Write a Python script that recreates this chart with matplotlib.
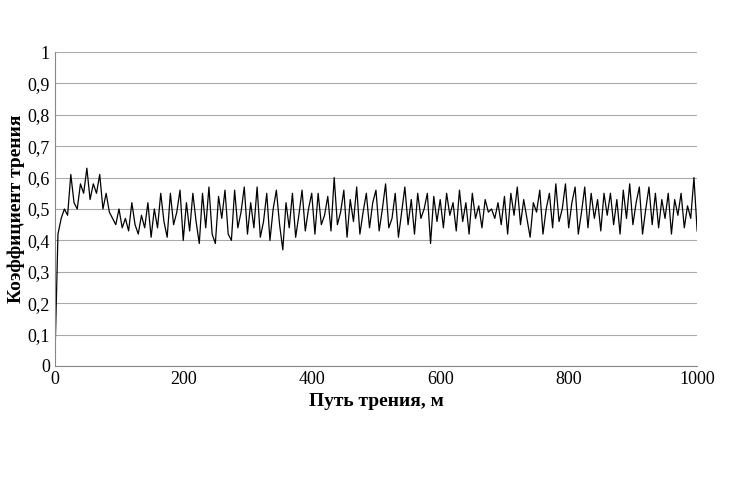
import numpy as np
import matplotlib.pyplot as plt

# friction coefficient read every 5 m of sliding path
path = list(range(0, 1001, 5))
mu = [0.00, 0.42, 0.47, 0.50, 0.48, 0.61, 0.52, 0.50, 0.58, 0.55, 0.63,
      0.53, 0.58, 0.55, 0.61, 0.50, 0.55, 0.49, 0.47, 0.45, 0.50,
      0.44, 0.47, 0.43, 0.52, 0.45, 0.42, 0.48, 0.44, 0.52, 0.41,
      0.50, 0.44, 0.55, 0.46, 0.41, 0.55, 0.45, 0.49, 0.56, 0.40,
      0.52, 0.43, 0.55, 0.46, 0.39, 0.55, 0.44, 0.57, 0.42, 0.39,
      0.54, 0.47, 0.56, 0.42, 0.40, 0.56, 0.44, 0.49, 0.57, 0.42,
      0.52, 0.44, 0.57, 0.41, 0.46, 0.55, 0.40, 0.50, 0.56, 0.45,
      0.37, 0.52, 0.44, 0.55, 0.41, 0.48, 0.56, 0.43, 0.50, 0.55,
      0.42, 0.55, 0.45, 0.48, 0.54, 0.43, 0.60, 0.45, 0.49, 0.56,
      0.41, 0.53, 0.46, 0.57, 0.42, 0.49, 0.55, 0.44, 0.52, 0.56,
      0.43, 0.50, 0.58, 0.44, 0.47, 0.55, 0.41, 0.49, 0.57, 0.45,
      0.53, 0.42, 0.55, 0.47, 0.50, 0.55, 0.39, 0.54, 0.46, 0.53,
      0.44, 0.55, 0.48, 0.52, 0.43, 0.56, 0.46, 0.52, 0.42, 0.55,
      0.47, 0.51, 0.44, 0.53, 0.49, 0.50, 0.47, 0.52, 0.45, 0.54,
      0.42, 0.55, 0.48, 0.57, 0.45, 0.53, 0.47, 0.41, 0.52, 0.49,
      0.56, 0.42, 0.50, 0.55, 0.44, 0.58, 0.46, 0.50, 0.58, 0.44,
      0.52, 0.57, 0.42, 0.49, 0.57, 0.44, 0.55, 0.47, 0.53, 0.43,
      0.55, 0.48, 0.55, 0.45, 0.53, 0.42, 0.56, 0.47, 0.58, 0.45,
      0.52, 0.57, 0.42, 0.50, 0.57, 0.45, 0.55, 0.44, 0.53, 0.47,
      0.55, 0.42, 0.53, 0.48, 0.55, 0.44, 0.51, 0.47, 0.60, 0.43]

plt.rcParams['font.family'] = ['Liberation Serif', 'DejaVu Serif']

fig, ax = plt.subplots(figsize=(7.30, 4.86), dpi=100)
fig.subplots_adjust(left=0.075, right=0.955, top=0.893, bottom=0.247)

ax.plot(path, mu, color='black', linewidth=0.9)
ax.set_xlim(0, 1000)
ax.set_ylim(0, 1)
ax.set_xticks(range(0, 1001, 200))
yt = np.round(np.arange(0, 1.01, 0.1), 1)
ax.set_yticks(yt)
ax.set_yticklabels([('%g' % v).replace('.', ',') for v in yt])
ax.grid(axis='y', color='#aaaaaa', linewidth=0.8)
ax.tick_params(labelsize=13, length=0)
for s in ['top', 'right']:
    ax.spines[s].set_visible(False)
ax.spines['bottom'].set_color('#888888')
ax.spines['left'].set_color('#888888')
ax.set_xlabel('Путь трения, м', fontsize=14, fontweight='bold')
ax.set_ylabel('Коэффициент трения', fontsize=14, fontweight='bold', labelpad=2)

fig.savefig('out.png')
